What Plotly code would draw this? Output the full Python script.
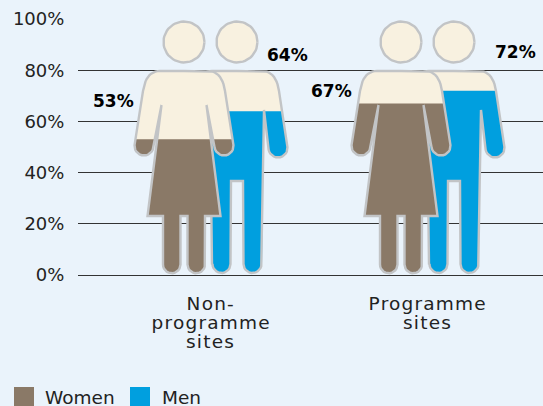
import json
import numpy as np
import plotly.graph_objects as go

category_lines = [["Non-", "programme", "sites"], ["Programme", "sites"]]
women = [53, 67]
men = [64, 72]
series_names = ["Women", "Men"]
y_ticks = [0, 20, 40, 60, 80, 100]
y_tick_labels = ["0%", "20%", "40%", "60%", "80%", "100%"]

BG = "#eaf3fb"
BEIGE = "#f8f1e0"
BROWN = "#8a7967"
BLUE = "#009fdf"
STROKE = "#c2c4c6"
FONT = "'DejaVu Sans', sans-serif"
TEXT = "#222"

PX_X = 217.0      # pixels per category step
PX_Y = 2.56       # pixels per percent
OFFSET = 26.5     # pictogram offset from category centre, pixels


def arc(cx, cy, r, a0, a1, n=14):
    t = np.radians(np.linspace(a0, a1, n))
    return list(zip(cx + r * np.cos(t), cy + r * np.sin(t)))


def bez(p0, c, p1, n=12):
    t = np.linspace(0, 1, n)
    return [((1 - s) ** 2 * p0[0] + 2 * s * (1 - s) * c[0] + s * s * p1[0],
             (1 - s) ** 2 * p0[1] + 2 * s * (1 - s) * c[1] + s * s * p1[1]) for s in t]


def half_woman():
    """right half of the glyph, from top centre to bottom centre (glyph units = px)"""
    p = [(0, 204)]
    p += bez((24, 204), (38, 204), (41, 184))
    p += arc(40, 129, 9.5, 5, -170)
    p += [(22.5, 170), (36.5, 59), (21, 59)]
    p += arc(12.25, 10.5, 8.75, 0, -180)
    p += [(3.5, 59), (0, 59)]
    return p


def half_man():
    p = [(0, 204)]
    p += bez((25, 204), (39, 204), (42, 184))
    p += arc(41, 127, 9.5, 5, -170)
    p += [(27, 165), (25, 10.5)]
    p += arc(15.5, 11, 9, 0, -180)
    p += [(6, 94), (0, 94)]
    return p


def mirror(half):
    return half + [(-x, y) for x, y in reversed(half)][1:]


def head():
    return arc(0, 233, 20.5, 0, 360, 60)


def clip_below(poly, level):
    out = []
    for i in range(len(poly)):
        a, b = poly[i], poly[(i + 1) % len(poly)]
        ina, inb = a[1] <= level, b[1] <= level
        if ina:
            out.append(a)
        if ina != inb:
            t = (level - a[1]) / (b[1] - a[1])
            out.append((a[0] + t * (b[0] - a[0]), level))
    return out


def to_xy(polys, cx, off):
    xs, ys = [], []
    for poly in polys:
        closed = list(poly) + [poly[0]]
        xs += [cx + (off + p[0]) / PX_X for p in closed] + [None]
        ys += [p[1] / PX_Y for p in closed] + [None]
    return xs, ys


fig = go.Figure()


def person(cx, off, body, value, color):
    polys = [body, head()]
    x, y = to_xy(polys, cx, off)
    fig.add_trace(go.Scatter(x=x, y=y, mode="lines", fill="toself", fillcolor=BEIGE,
                             line=dict(width=0), showlegend=False, hoverinfo="skip"))
    fx, fy = to_xy([clip_below(body, value * PX_Y)], cx, off)
    fig.add_trace(go.Scatter(x=fx, y=fy, mode="lines", fill="toself", fillcolor=color,
                             line=dict(width=0), showlegend=False, hoverinfo="skip"))
    fig.add_trace(go.Scatter(x=x, y=y, mode="lines", line=dict(color=STROKE, width=2.4),
                             showlegend=False, hoverinfo="skip"))


for i in range(len(category_lines)):
    person(i, OFFSET, mirror(half_man()), men[i], BLUE)
    person(i, -OFFSET, mirror(half_woman()), women[i], BROWN)

# value labels (x offset in px from category centre, y in percent)
label_x = [-97.5, 76.5, -96.5, 88]
label_y = [68.1, 86.1, 71.9, 87.1]
label_cat = [0, 0, 1, 1]
label_val = [women[0], men[0], women[1], men[1]]
annotations = [
    dict(x=c + dx / PX_X, y=yy, xref="x", yref="y", text=f"<b>{v}%</b>", showarrow=False,
         font=dict(family=FONT, size=17, color="#000"))
    for c, dx, yy, v in zip(label_cat, label_x, label_y, label_val)
]

# category labels, one annotation per line for the tight leading
for i, lines in enumerate(category_lines):
    for j, line in enumerate(lines):
        annotations.append(dict(x=i, y=(275 - (303.5 + 19 * j)) / 256, xref="x", yref="paper",
                                text=line, showarrow=False, yanchor="middle",
                                font=dict(family=FONT, size=18.5, color=TEXT)))

# legend
shapes = []
legend_x = [14, 130]
legend_text_x = [43, 160]
for name, col, sx, tx in zip(series_names, [BROWN, BLUE], legend_x, legend_text_x):
    shapes.append(dict(type="rect", xref="paper", yref="paper",
                       x0=(sx - 78) / 465, x1=(sx + 20 - 78) / 465,
                       y0=(275 - 406) / 256, y1=(275 - 387) / 256,
                       fillcolor=col, line=dict(width=0)))
    annotations.append(dict(x=(tx - 78) / 465, y=(275 - 397) / 256, xref="paper", yref="paper",
                            xanchor="left", yanchor="middle", text=name, showarrow=False,
                            font=dict(family=FONT, size=18.5, color=TEXT)))

fig.update_layout(
    width=543, height=406, autosize=False,
    margin=dict(l=78, r=0, t=19, b=131),
    paper_bgcolor=BG, plot_bgcolor=BG,
    showlegend=False,
    annotations=annotations, shapes=shapes,
    xaxis=dict(range=[(78 - 210.5) / PX_X, (543 - 210.5) / PX_X],
               showticklabels=False, showgrid=False, zeroline=False, showline=False, ticks=""),
    yaxis=dict(range=[0, 100], tickmode="array", tickvals=y_ticks, ticktext=y_tick_labels,
               gridcolor="#333", gridwidth=1, zeroline=True, zerolinecolor="#333", zerolinewidth=1,
               showline=False, ticks="outside", ticklen=9, tickcolor=BG,
               tickfont=dict(family=FONT, size=18, color=TEXT)),
)
wide = json.dumps(sorted({s for lines in category_lines for s in lines}))
post = (
    "document.body.style.margin='0';"
    f"document.documentElement.style.background='{BG}';"
    f"var w={wide};"
    "document.querySelectorAll('.annotation-text').forEach(function(t){"
    "if(w.indexOf(t.textContent)>=0){t.style.letterSpacing='1.2px';}});"
)
fig.write_html("out.html", post_script=post, config={"displayModeBar": False})
